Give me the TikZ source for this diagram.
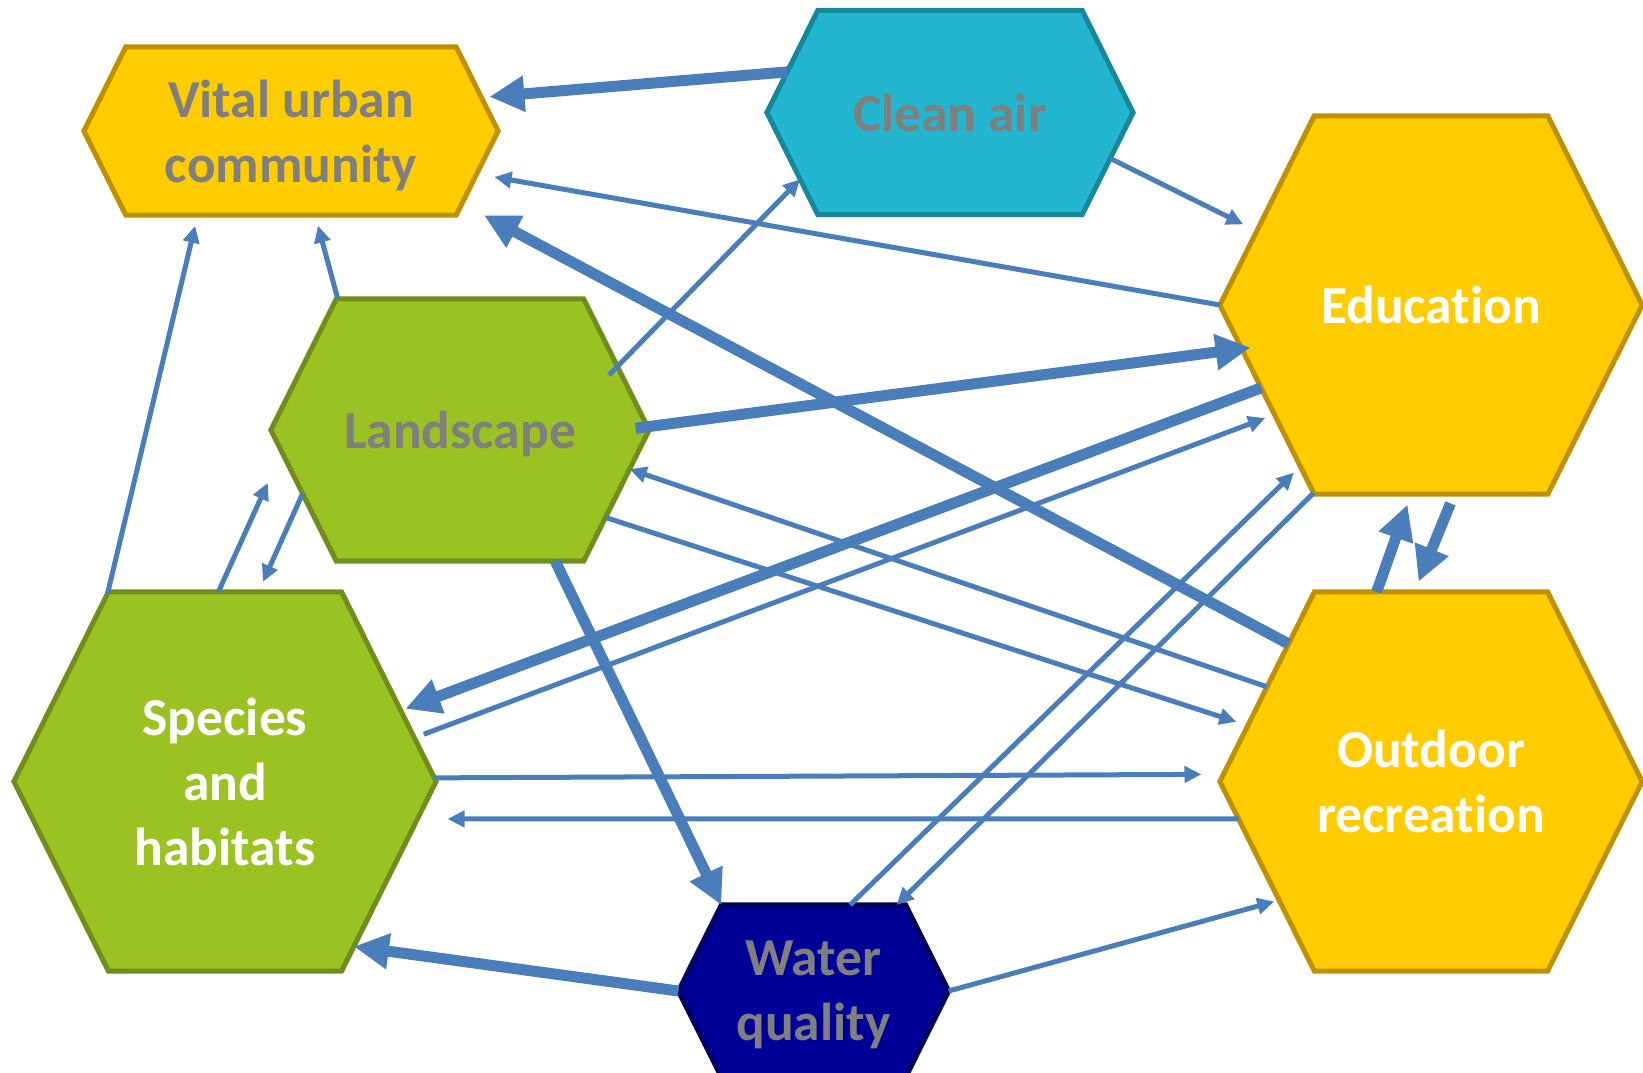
\documentclass[tikz,border=0pt]{standalone}
\usepackage{fontspec}
\setmainfont{Carlito}[Ligatures=CommonOff]
\usetikzlibrary{arrows.meta,shapes.symbols}
\definecolor{gold}{HTML}{FFCC00}
\definecolor{goldline}{HTML}{BF9000}
\definecolor{lime}{HTML}{9AC222}
\definecolor{limeline}{HTML}{6F8F1C}
\definecolor{aqua}{HTML}{23B6CF}
\definecolor{aqualine}{HTML}{17879A}
\definecolor{navy}{HTML}{000099}
\definecolor{navyline}{HTML}{00005E}
\definecolor{greytext}{HTML}{7F7F7F}
\definecolor{arrowblue}{HTML}{4A7EBB}
\newcommand{\nodepth}[1]{\raisebox{0pt}[\height][0pt]{#1}}

\begin{document}
\begin{tikzpicture}[x=0.01cm,y=-0.01cm,
    hexa/.style n args={3}{signal,signal to=east and west,signal pointer angle=127,
      fill=#1,draw=#2,text=#3,line width=0.05cm,inner sep=0pt,outer sep=0pt,align=center,
      font=\bfseries\fontsize{15.2}{18.5}\selectfont},
    flow/.style={draw=arrowblue,line width=0.05cm,-{Triangle[length=0.17cm,width=0.16cm]}},
    bigflow/.style={draw=arrowblue,line width=0.11cm,-{Triangle[length=0.35cm,width=0.34cm]}}]
  \useasboundingbox (0,0) rectangle (1643,1072);
  % hexagons
  \node[hexa={gold}{goldline}{greytext},minimum width=4.14cm,minimum height=1.68cm] (vital) at (291,131) {Vital urban\\\nodepth{community}};
  \node[hexa={aqua}{aqualine}{greytext},minimum width=3.66cm,minimum height=2.04cm] (clean) at (950,112.5) {Clean air};
  \node[hexa={gold}{goldline}{white},minimum width=4.22cm,minimum height=3.78cm] (edu) at (1431,305) {Education};
  \node[hexa={lime}{limeline}{greytext},minimum width=3.78cm,minimum height=2.62cm] (land) at (460,430) {\nodepth{Landscape}};
  \node[hexa={lime}{limeline}{white},minimum width=4.22cm,minimum height=3.79cm] (spec) at (225,781.5) {Species\\and\\habitats};
  \node[hexa={gold}{goldline}{white},minimum width=4.22cm,minimum height=3.79cm] (outd) at (1431,781.5) {Outdoor\\recreation};
  \node[hexa={navy}{navyline}{greytext},minimum width=2.70cm,minimum height=1.72cm] (water) at (813.5,991) {Water\\\nodepth{quality}};
  % weak links
  \foreach \a/\b/\p/\q in {edu.180/vital.347/0/0.18, land.22/clean.204/-0.12/0,
      clean.344/edu.157/0/0.15, spec.13/edu.215/0.10/0.10, water.67/edu.231/0/0.09,
      edu.238/water.46/0/0, outd.150/land.347/0/0, land.329/outd.163/0/0.12,
      spec.1/outd.178/0/0.22, outd.191/spec.349/0/0.30, water.0/outd.218/0/0.05,
      spec.122/vital.222/0/0.11, land.133/vital.286/0/0.11, spec.92/land.187/0/0.34,
      land.202/spec.80/0/0.11}
    \draw[flow,shorten <=\p cm,shorten >=\q cm] (\a) -- (\b);
  % strong links
  \foreach \a/\b/\p/\q in {clean.166/vital.10/0/0.08, outd.136/vital.337/0/0.25,
      land.1/edu.193/-0.12/-0.09, edu.206/spec.22/0/0.05, outd.106/edu.264/0/0.11,
      edu.277/outd.95/0.10/0.11, land.306/water.137/0/0, water.180/spec.308/0/0}
    \draw[bigflow,shorten <=\p cm,shorten >=\q cm] (\a) -- (\b);
\end{tikzpicture}
\end{document}
